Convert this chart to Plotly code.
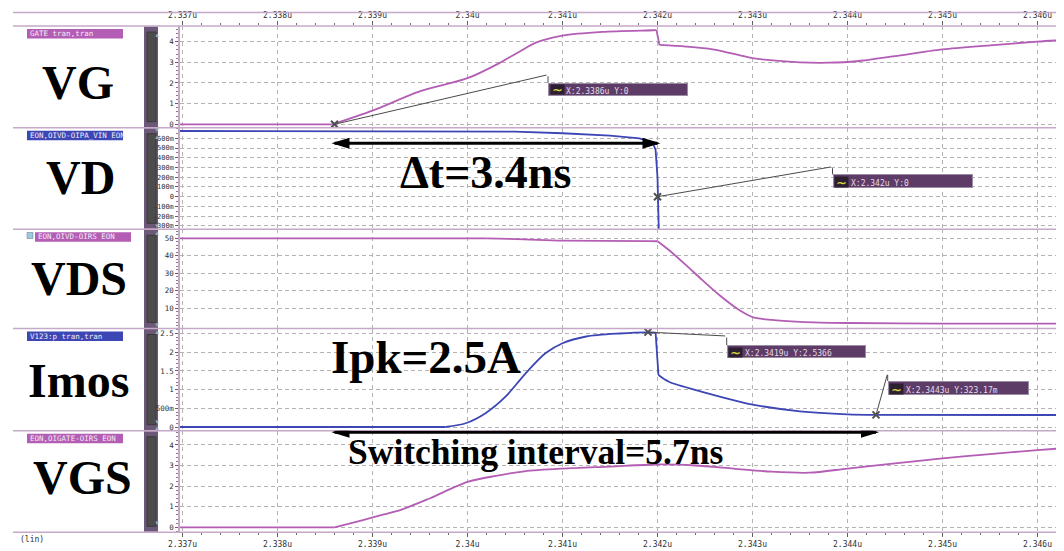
import plotly.graph_objects as go

# page geometry: the figure sits at the body's 8px margin
PAGE_W, PAGE_H = 1064, 551
OFF = 8
W, H = PAGE_W - OFF, PAGE_H - OFF

# ---------------- data ----------------
time_ticks = [2.337, 2.338, 2.339, 2.340, 2.341, 2.342, 2.343, 2.344, 2.345, 2.346]
time_labels = ["2.337u", "2.338u", "2.339u", "2.34u", "2.341u", "2.342u",
               "2.343u", "2.344u", "2.345u", "2.346u"]

vg_t = [2.33697, 2.33858, 2.3390, 2.33949, 2.3400, 2.34033, 2.34054, 2.34072, 2.3410,
        2.34142, 2.34195, 2.34199, 2.34202, 2.3423, 2.34258, 2.34286, 2.3430, 2.3435,
        2.3438, 2.3441, 2.3445, 2.3450, 2.3455, 2.3460, 2.3463]
vg_v = [0, 0, 0.66, 1.58, 2.23, 2.95, 3.5, 3.95, 4.29,
        4.47, 4.55, 4.56, 3.84, 3.76, 3.63, 3.35, 3.2, 3.0,
        2.98, 3.05, 3.3, 3.62, 3.82, 4.0, 4.08]

vd_t = [2.33697, 2.3395, 2.3405, 2.3410, 2.3415, 2.34181, 2.34195, 2.34198, 2.34200,
        2.34201, 2.34202]
vd_v = [0.675, 0.675, 0.668, 0.652, 0.628, 0.60, 0.555, 0.48, 0.2, -0.2, -0.6]

vds_t = [2.33697, 2.3402, 2.3406, 2.3410, 2.3419, 2.34200, 2.34212, 2.3423, 2.34247,
         2.34265, 2.34286, 2.3430, 2.3432, 2.3435, 2.3440, 2.3450, 2.3463]
vds_v = [50, 50, 49.4, 48.7, 48.4, 48.3, 43.3, 34.7, 26.2,
         17.6, 9.0, 5.0, 3.4, 2.3, 1.6, 1.3, 1.2]

imos_t = [2.33697, 2.33977, 2.33998, 2.34019, 2.3404, 2.34061, 2.34082, 2.3410, 2.34125,
          2.3416, 2.34188, 2.34198, 2.34201, 2.34212, 2.34247, 2.34286, 2.3430, 2.3435,
          2.3440, 2.3443, 2.3463]
imos_v = [0, 0, 0.10, 0.37, 0.81, 1.43, 1.97, 2.24, 2.42,
          2.50, 2.53, 2.52, 1.39, 1.21, 0.94, 0.68, 0.60, 0.42,
          0.34, 0.323, 0.32]

vgs_t = [2.33697, 2.3386, 2.3389, 2.3391, 2.3393, 2.3396, 2.3400, 2.3403, 2.3406, 2.3410,
         2.3415, 2.3420, 2.3424, 2.3428, 2.3432, 2.3436, 2.3440, 2.3445, 2.3450, 2.3455,
         2.3460, 2.3463]
vgs_v = [0, 0, 0.35, 0.6, 0.85, 1.4, 2.2, 2.5, 2.72, 2.85,
         2.95, 3.05, 3.0, 2.85, 2.7, 2.65, 2.85, 3.1, 3.35, 3.55,
         3.75, 3.85]

panel_names = ["VG", "VD", "VDS", "Imos", "VGS"]
signal_labels = ["GATE tran,tran", "EON,OIVD-OIPA_VIN EON", "EON,OIVD-OIRS EON",
                 "V123:p tran,tran", "EON,OIGATE-OIRS EON"]

vg_ticks = [0, 1, 2, 3, 4]
vg_ticklabels = ["0", "1", "2", "3", "4"]
vd_ticks = [-0.3, -0.2, -0.1, 0, 0.1, 0.2, 0.3, 0.4, 0.5, 0.6]
vd_ticklabels = ["-300m", "-200m", "-100m", "0", "100m", "200m", "300m", "400m", "500m", "600m"]
vds_ticks = [10, 20, 30, 40, 50]
vds_ticklabels = ["10", "20", "30", "40", "50"]
imos_ticks = [0, 0.5, 1, 1.5, 2, 2.5]
imos_ticklabels = ["0", "500m", "1", "1.5", "2", "2.5"]
vgs_ticks = [0, 1, 2, 3, 4]
vgs_ticklabels = ["0", "1", "2", "3", "4"]

# cursor readouts
readout_panel = [1, 2, 4, 4]
readout_t = [2.3386, 2.342, 2.3419, 2.3443]
readout_v = [0, 0, 2.5366, 0.32317]
readout_text = ["X:2.3386u Y:0", "X:2.342u Y:0", "X:2.3419u Y:2.5366", "X:2.3443u Y:323.17m"]

# measured intervals
dt_start, dt_end = 2.3386, 2.342
sw_start, sw_end = 2.3386, 2.3443

# ---------------- styling helpers ----------------
MAG = "#b35db5"
BLUE = "#3c46b4"
SEP = "#c6a8c8"
GRID = "#b4b4b4"
MONO = "DejaVu Sans Mono"
SERIF = "Liberation Serif"


def px(x):
    return (x - OFF) / W


def py(y):
    return 1 - (y - OFF) / H


panel_px = [26, 127.7, 229.3, 328.5, 430.7, 532.3]
x_range = [2.337 - 2.5 / 95 / 1000, 2.337 + 881.5 / 95 / 1000]
y_ranges = [[-0.164, 4.756], [-0.335, 0.709], [-1.54, 55.14], [-0.099, 2.634], [-0.243, 4.69]]
y_tick_sets = [(vg_ticks, vg_ticklabels, 0.2, 7.5), (vd_ticks, vd_ticklabels, 0.05, 7),
               (vds_ticks, vds_ticklabels, 2, 7.5), (imos_ticks, imos_ticklabels, 0.1, 7.5),
               (vgs_ticks, vgs_ticklabels, 0.2, 7.5)]

# (t, v, colour, split indices, spline?)
series = [(vg_t, vg_v, MAG, [1, 11, 12], True), (vd_t, vd_v, BLUE, [], False),
          (vds_t, vds_v, MAG, [1, 5], True), (imos_t, imos_v, BLUE, [1, 11, 12], True),
          (vgs_t, vgs_v, MAG, [1], True)]

fig = go.Figure()
for i, (t, v, c, splits, smooth) in enumerate(series):
    n = "" if i == 0 else str(i + 1)
    bounds = [0] + splits + [len(t) - 1]
    for a, b in zip(bounds[:-1], bounds[1:]):
        fig.add_trace(go.Scatter(x=t[a:b + 1], y=v[a:b + 1], mode="lines",
                                 line=dict(color=c, width=1.8,
                                           shape="spline" if (smooth and b - a > 1) else "linear",
                                           smoothing=0.8),
                                 xaxis="x" + n, yaxis="y" + n, showlegend=False,
                                 hoverinfo="skip"))

# cursor markers
for p, t, v in zip(readout_panel, readout_t, readout_v):
    n = "" if p == 1 else str(p)
    fig.add_trace(go.Scatter(x=[t], y=[v], mode="markers",
                             marker=dict(symbol="x-thin", size=7,
                                         line=dict(color="#505050", width=2)),
                             xaxis="x" + n, yaxis="y" + n, showlegend=False,
                             hoverinfo="skip"))

layout = dict(width=W, height=H, autosize=False, margin=dict(l=0, r=0, t=0, b=0, pad=0),
              paper_bgcolor="white", plot_bgcolor="white", showlegend=False,
              template="none")

for i in range(5):
    n = "" if i == 0 else str(i + 1)
    top, bot = panel_px[i], panel_px[i + 1]
    xa = dict(domain=[px(180), 1], range=x_range, anchor="y" + n, automargin=False,
              tickvals=time_ticks, ticktext=time_labels, showgrid=True,
              gridcolor=GRID, griddash="4px,4px", gridwidth=1, zeroline=False,
              showline=False, showticklabels=False, ticks="",
              tickfont=dict(family=MONO, size=8, color="#303030"))
    if i in (0, 4):
        xa.update(side="top" if i == 0 else "bottom", showticklabels=True,
                  ticks="outside", ticklen=4, tickcolor="#606060",
                  minor=dict(ticks="outside", ticklen=2, dtick=0.0002, tick0=2.337,
                             tickcolor="#707070", showgrid=False))
    if i > 0:
        xa["matches"] = "x"
    tv, tt, md, fs = y_tick_sets[i]
    ya = dict(domain=[py(bot), py(top)], range=y_ranges[i], anchor="x" + n,
              automargin=False, tickvals=tv, ticktext=tt, showgrid=True, gridcolor=GRID,
              griddash="4px,3px", zeroline=False, showline=True, linecolor=SEP,
              linewidth=1.5, ticks="outside", ticklen=3, tickcolor="#606060",
              tickfont=dict(family=MONO, size=fs, color="#303030"),
              minor=dict(ticks="outside", ticklen=2, dtick=md, tick0=0,
                         tickcolor="#808080", showgrid=False))
    layout["xaxis" + n] = xa
    layout["yaxis" + n] = ya

shapes = []
annotations = []

# separators
shapes.append(dict(type="line", xref="paper", yref="paper", x0=px(13), x1=1,
                   y0=py(12.5), y1=py(12.5), line=dict(color=SEP, width=1.5)))
for yy in panel_px:
    shapes.append(dict(type="line", xref="paper", yref="paper", x0=px(13), x1=1,
                       y0=py(yy), y1=py(yy), line=dict(color=SEP, width=1.5)))

# scrollbars and signal label boxes
label_colors = [MAG, BLUE, MAG, BLUE, MAG]
for i in range(5):
    top, bot = panel_px[i], panel_px[i + 1]
    shapes.append(dict(type="rect", xref="paper", yref="paper", x0=px(144), x1=px(158),
                       y0=py(bot - 0.5), y1=py(top + 0.5), fillcolor="#6c5878",
                       line=dict(width=0), layer="below"))
    shapes.append(dict(type="rect", xref="paper", yref="paper", x0=px(147), x1=px(156),
                       y0=py(bot - 6), y1=py(top + 6), fillcolor="#4c4c4c",
                       line=dict(color="#3a3a3a", width=1), layer="below"))
    for ay, sym in ((top + 3.2, "▲"), (bot - 3.2, "▼")):
        annotations.append(dict(x=px(151.5), y=py(ay), xref="paper", yref="paper",
                                text=sym, showarrow=False,
                                font=dict(size=6, color="#a8a8a8")))
    x0 = 35 if i == 2 else 27
    x1 = 131 if i == 2 else 123
    shapes.append(dict(type="rect", xref="paper", yref="paper", x0=px(x0), x1=px(x1),
                       y0=py(top + 12.5), y1=py(top + 3), fillcolor=label_colors[i],
                       line=dict(width=0)))
    annotations.append(dict(x=px(x0 + 1), y=py(top + 7.6), xref="paper", yref="paper",
                            xanchor="left", yanchor="middle", text=signal_labels[i],
                            showarrow=False,
                            font=dict(family=MONO, size=7.5, color="#f4ecf4")))
shapes.append(dict(type="rect", xref="paper", yref="paper", x0=px(27), x1=px(33),
                   y0=py(238.5), y1=py(232.5), fillcolor="#9ccbe0",
                   line=dict(color="#607080", width=0.5)))

# big panel titles
title_pos = [(78, 83), (80, 177), (79, 278), (78, 380), (82, 477)]
for name, (cx, cy) in zip(panel_names, title_pos):
    annotations.append(dict(x=px(cx), y=py(cy), xref="paper", yref="paper",
                            text=name, showarrow=False, xanchor="center", yanchor="middle",
                            font=dict(family=SERIF, size=48, color="black", weight="bold")))

annotations.append(dict(x=px(18), y=py(546), xref="paper", yref="paper", xanchor="left",
                        text="(lin)", showarrow=False,
                        font=dict(family=MONO, size=8, color="#303030")))

# cursor readouts (pixel offsets from the cursor point)
offsets = [(213.5, 49.6, 8, 140, 13), (175, 30, 7.6, 140, 14),
           (78.7, -3.9, 9, 139, 13), (11.7, 41.6, 7.7, 141, 14)]
for p, t, v, txt, (dx, dy, gap, bw, bh) in zip(readout_panel, readout_t, readout_v,
                                               readout_text, offsets):
    n = "" if p == 1 else str(p)
    ref = dict(xref="x" + n, yref="y" + n, x=t, y=v)
    annotations.append(dict(**ref, text="", showarrow=True, ax=dx, ay=-dy,
                            arrowhead=0, arrowwidth=1, arrowcolor="#4a4a4a",
                            standoff=0, startstandoff=0))
    annotations.append(dict(**ref, text="", showarrow=True, ax=0, ay=-gap,
                            xshift=dx, yshift=dy - gap, arrowhead=0, arrowwidth=1,
                            arrowcolor="#4a4a4a", standoff=0, startstandoff=0))
    annotations.append(dict(**ref, text=" ", showarrow=False, xanchor="left",
                            yanchor="top", xshift=dx, yshift=dy - gap, width=bw - 2,
                            height=bh - 2, bgcolor="#5e3c68", bordercolor="#9c8ca4",
                            borderwidth=1, borderpad=0))
    annotations.append(dict(**ref, text="~", showarrow=False, xanchor="left",
                            yanchor="top", xshift=dx + 1.5, yshift=dy - gap - 1.5,
                            width=13, height=bh - 4, bgcolor="#2c2030", borderpad=0,
                            font=dict(family="DejaVu Sans", size=13, color="#d4d43c",
                                      weight="bold")))
    annotations.append(dict(**ref, text=txt, showarrow=False, xanchor="left",
                            yanchor="top", xshift=dx + 16, yshift=dy - gap,
                            height=bh, valign="middle",
                            font=dict(family=MONO, size=8, color="#e4dce6")))


# measurement arrows
def double_arrow(xn, yn, t0, t1, yv):
    shapes.append(dict(type="line", xref=xn, yref=yn, x0=t0, x1=t1, y0=yv, y1=yv,
                       line=dict(color="black", width=3)))
    shapes.append(dict(type="path", xref=xn, yref=yn, xsizemode="pixel",
                       ysizemode="pixel", xanchor=t0, yanchor=yv,
                       path="M-3,0 L15,5.5 L15,-5.5 Z", fillcolor="black",
                       line=dict(width=0)))
    shapes.append(dict(type="path", xref=xn, yref=yn, xsizemode="pixel",
                       ysizemode="pixel", xanchor=t1, yanchor=yv,
                       path="M3,0 L-15,5.5 L-15,-5.5 Z", fillcolor="black",
                       line=dict(width=0)))


double_arrow("x2", "y2", dt_start, dt_end, 0.549)
double_arrow("x5", "y5", sw_start, sw_end, 4.62)

annotations.append(dict(x=px(485), y=py(172), xref="paper", yref="paper",
                        text="Δt=3.4ns", showarrow=False, yanchor="middle",
                        font=dict(family=SERIF, size=46, color="black", weight="bold")))
annotations.append(dict(x=px(426), y=py(357), xref="paper", yref="paper",
                        text="Ipk=2.5A", showarrow=False, yanchor="middle",
                        font=dict(family=SERIF, size=47, color="black", weight="bold")))
annotations.append(dict(x=px(535), y=py(452), xref="paper", yref="paper",
                        text="Switching interval=5.7ns", showarrow=False, yanchor="middle",
                        font=dict(family=SERIF, size=35.5, color="black", weight="bold")))

layout["shapes"] = shapes
layout["annotations"] = annotations
fig.update_layout(**layout)
fig.write_html("out.html")
